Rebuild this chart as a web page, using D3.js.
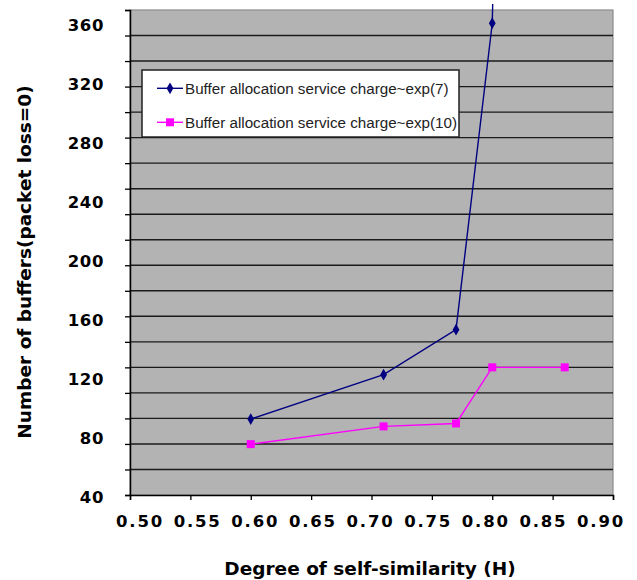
<!DOCTYPE html>
<html>
<head>
<meta charset="utf-8">
<script src="https://cdn.jsdelivr.net/npm/d3@7"></script>
<style>
  html, body { margin: 0; padding: 0; background: #ffffff; }
  svg { display: block; }
</style>
</head>
<body>
<svg id="chart" width="637" height="580"></svg>
<script>
// ---- data ----
const xValues = [0.60, 0.71, 0.77, 0.80, 0.86];
const seriesNames = [
  "Buffer allocation service charge~exp(7)",
  "Buffer allocation service charge~exp(10)"
];
const series7 = [93, 123, 153.5, 361, 2500];   // last point lies far above the plot
const series10 = [76, 88, 90, 128, 128];
const yTickLabels = ["40", "80", "120", "160", "200", "240", "280", "320", "360"];
const yTickValues = [40, 80, 120, 160, 200, 240, 280, 320, 360];
const xTickValues = [0.50, 0.55, 0.60, 0.65, 0.70, 0.75, 0.80, 0.85, 0.90];
const gridValues = d3.range(0, 381, 20);   // native axis grid (0..380 by 20)
const xTitle = "Degree of self-similarity (H)";
const yTitle = "Number of buffers(packet loss=0)";

// ---- layout ----
const plot = { left: 130, right: 613, top: 10, bottom: 495 };
const svg = d3.select("#chart");

const x = d3.scaleLinear().domain([0.5, 0.9]).range([plot.left, plot.right]);
const xLab = d3.scaleLinear().domain([0.5, 0.9]).range([140, 601]);
const yGrid = d3.scaleLinear().domain([0, 380]).range([plot.bottom, plot.top]);
const y = d3.scaleLinear().domain([40, 360]).range([497.3, 24.7]);

const labelFont = "'DejaVu Sans', sans-serif";

// plot background
svg.append("rect")
  .attr("x", plot.left).attr("y", plot.top)
  .attr("width", plot.right - plot.left).attr("height", plot.bottom - plot.top)
  .attr("fill", "#b3b3b3")
  .attr("stroke", "#8a8a8a").attr("stroke-width", 1.2);

// gridlines
svg.append("g")
  .selectAll("line")
  .data(gridValues.filter(v => v > 0 && v < 380))
  .join("line")
  .attr("x1", plot.left).attr("x2", plot.right)
  .attr("y1", d => yGrid(d)).attr("y2", d => yGrid(d))
  .attr("stroke", "#1a1a1a").attr("stroke-width", 1.4);

// y axis (ticks at native grid, no labels)
const yAxis = svg.append("g")
  .attr("transform", `translate(${plot.left},0)`)
  .call(d3.axisLeft(yGrid).tickValues(gridValues).tickSize(5).tickFormat(""));
yAxis.select(".domain").attr("stroke", "#000").attr("stroke-width", 1.5);
yAxis.selectAll(".tick line").attr("stroke", "#000").attr("stroke-width", 1.3);

// y tick labels
svg.append("g")
  .selectAll("text")
  .data(yTickValues)
  .join("text")
  .attr("x", 104)
  .attr("y", d => y(d))
  .attr("dy", "0.36em")
  .attr("text-anchor", "end")
  .attr("font-family", labelFont)
  .attr("font-weight", "bold")
  .attr("font-size", 16.5)
  .attr("letter-spacing", 0.6)
  .attr("fill", "#000")
  .text((d, i) => yTickLabels[i]);

// x axis
const xAxis = svg.append("g")
  .attr("transform", `translate(0,${plot.bottom})`)
  .call(d3.axisBottom(x).tickValues(xTickValues).tickSize(5).tickFormat(""));
xAxis.select(".domain").attr("stroke", "#000").attr("stroke-width", 1.5);
xAxis.selectAll(".tick line").attr("stroke", "#000").attr("stroke-width", 1.3);

svg.append("g")
  .selectAll("text")
  .data(xTickValues)
  .join("text")
  .attr("x", d => xLab(d))
  .attr("y", 521)
  .attr("dy", "0.36em")
  .attr("text-anchor", "middle")
  .attr("font-family", labelFont)
  .attr("font-weight", "bold")
  .attr("font-size", 16.5)
  .attr("letter-spacing", 1.8)
  .attr("fill", "#000")
  .text(d => d3.format(".2f")(d));

// axis titles
svg.append("text")
  .attr("x", 370).attr("y", 575)
  .attr("text-anchor", "middle")
  .attr("font-family", labelFont)
  .attr("font-weight", "bold")
  .attr("font-size", 18.5)
  .attr("fill", "#000")
  .text(xTitle);

svg.append("text")
  .attr("transform", "translate(31,262) rotate(-90)")
  .attr("text-anchor", "middle")
  .attr("font-family", labelFont)
  .attr("font-weight", "bold")
  .attr("font-size", 18.5)
  .attr("fill", "#000")
  .text(yTitle);

// clip for lines (image cropped just above the plot)
svg.append("clipPath").attr("id", "clip")
  .append("rect").attr("x", 0).attr("y", 4).attr("width", 637).attr("height", 576);

const line = d3.line().x(d => x(d[0])).y(d => y(d[1]));
const data7 = xValues.map((v, i) => [v, series7[i]]);
const data10 = xValues.map((v, i) => [v, series10[i]]);

const gLines = svg.append("g").attr("clip-path", "url(#clip)");
gLines.append("path").datum(data7)
  .attr("d", line).attr("fill", "none")
  .attr("stroke", "#000080").attr("stroke-width", 1.4);
gLines.append("path").datum(data10)
  .attr("d", line).attr("fill", "none")
  .attr("stroke", "#ff00ff").attr("stroke-width", 1.4);

const diamond = d3.symbol().type(d3.symbolDiamond).size(40);
gLines.append("g").selectAll("path")
  .data(data7.filter(d => d[1] <= 370))
  .join("path")
  .attr("transform", d => `translate(${x(d[0])},${y(d[1])})`)
  .attr("d", diamond)
  .attr("fill", "#000080");

gLines.append("g").selectAll("rect")
  .data(data10)
  .join("rect")
  .attr("x", d => x(d[0]) - 4).attr("y", d => y(d[1]) - 4)
  .attr("width", 8).attr("height", 8)
  .attr("fill", "#ff00ff");

// legend
const leg = svg.append("g");
leg.append("rect")
  .attr("x", 142).attr("y", 70).attr("width", 317).attr("height", 67)
  .attr("fill", "#ffffff").attr("stroke", "#222").attr("stroke-width", 1.5);
const legRows = [
  { name: seriesNames[0], color: "#000080", sym: "diamond", y: 88.3 },
  { name: seriesNames[1], color: "#ff00ff", sym: "square", y: 122.3 }
];
legRows.forEach(r => {
  leg.append("line").attr("x1", 157).attr("x2", 183)
    .attr("y1", r.y).attr("y2", r.y)
    .attr("stroke", r.color).attr("stroke-width", 1.4);
  if (r.sym === "diamond") {
    leg.append("path").attr("transform", `translate(170,${r.y})`)
      .attr("d", diamond).attr("fill", r.color);
  } else {
    leg.append("rect").attr("x", 166).attr("y", r.y - 4)
      .attr("width", 8).attr("height", 8).attr("fill", r.color);
  }
  leg.append("text")
    .attr("x", 185).attr("y", r.y).attr("dy", "0.36em")
    .attr("font-family", "'Liberation Sans', Arial, sans-serif")
    .attr("font-size", 15.2)
    .attr("fill", "#222")
    .text(r.name);
});
</script>
</body>
</html>
